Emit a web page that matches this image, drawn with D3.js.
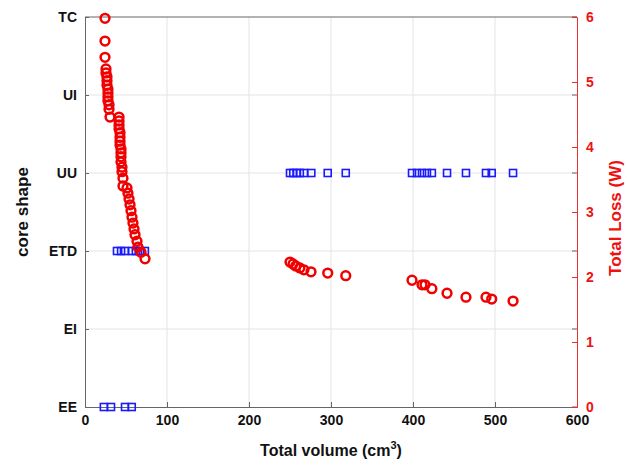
<!DOCTYPE html>
<html><head><meta charset="utf-8">
<script src="https://cdn.jsdelivr.net/npm/d3@7"></script>
<style>body{margin:0;background:#fff}text{font-family:"Liberation Sans",Arial,sans-serif;font-weight:bold}</style>
</head><body>
<svg id="c" width="627" height="467"></svg>
<script>
const shapes = ["EE","EI","ETD","UU","UI","TC"];
const xTicks = [0,100,200,300,400,500,600];
const lossTicks = [0,1,2,3,4,5,6];
// Total loss (red circles): volume (cm3), loss (W)
const lossVol = [24.4,24.4,24.4,25.6,25.6,26.8,26.8,26.8,28,28,28,28,29.3,29.3,30.5,
  41.5,41.5,41.5,41.5,42.7,42.7,42.7,42.7,43.9,43.9,43.9,43.9,45.1,45.1,46.3,46.3,
  51.2,52.4,53.7,54.9,56.1,57.3,58.5,59.8,61,63.4,64.6,68.3,73.2,
  250,253.7,257,262,267,275.6,296,318,
  398.8,411,414.6,423,441.5,464.6,489,496,522];
const lossVal = [5.98,5.63,5.38,5.2,5.14,5.08,5.02,4.95,4.89,4.83,4.77,4.71,4.65,4.58,4.46,
  4.46,4.4,4.34,4.28,4.22,4.15,4.09,4.03,3.97,3.91,3.85,3.77,3.69,3.62,3.52,3.4,
  3.37,3.29,3.2,3.11,3.02,2.92,2.83,2.74,2.65,2.55,2.46,2.38,2.28,
  2.23,2.2,2.17,2.14,2.11,2.08,2.06,2.02,
  1.95,1.88,1.88,1.82,1.75,1.69,1.69,1.66,1.63];
// Core shape (blue squares): volume (cm3), shape
const shapeVol = [23,31.7,48.8,57, 39,44,49,57,62,67,73,
  250,254,258,262,267,276,296,318,
  398.8,405,411,417,423,441.5,464.6,489,496,522];
const shapeCat = ["EE","EE","EE","EE","ETD","ETD","ETD","ETD","ETD","ETD","ETD",
  "UU","UU","UU","UU","UU","UU","UU","UU",
  "UU","UU","UU","UU","UU","UU","UU","UU","UU","UU"];

const svg = d3.select("#c");
const L = 85, R = 577, T = 17, B = 407;
const x = d3.scaleLinear().domain([0,600]).range([L,R]);
const yc = d3.scalePoint().domain(shapes).range([B,T]);
const yl = d3.scaleLinear().domain([0,6]).range([B,T]);

// grid
svg.append("g").selectAll("line").data(xTicks.slice(1,-1)).join("line")
  .attr("x1",d=>x(d)).attr("x2",d=>x(d)).attr("y1",T).attr("y2",B)
  .attr("stroke","#e3e3e3").attr("stroke-width",1);
svg.append("g").selectAll("line").data(shapes.slice(1,-1)).join("line")
  .attr("x1",L).attr("x2",R).attr("y1",d=>yc(d)).attr("y2",d=>yc(d))
  .attr("stroke","#e3e3e3").attr("stroke-width",1);

// box top
svg.append("line").attr("x1",L).attr("x2",R).attr("y1",T).attr("y2",T).attr("stroke","#666");

// x axis
const gx = svg.append("g").attr("transform",`translate(0,${B})`)
  .call(d3.axisBottom(x).tickValues(xTicks).tickSize(-5).tickPadding(8));
gx.select(".domain").attr("stroke","#666");
gx.selectAll(".tick line").attr("stroke","#666");
gx.selectAll("text").attr("font-size",14).attr("fill","#111");

// left axis
const gy = svg.append("g").attr("transform",`translate(${L},0)`)
  .call(d3.axisLeft(yc).tickSize(-4).tickPadding(8));
gy.select(".domain").attr("stroke","#666");
gy.selectAll(".tick line").attr("stroke","#666");
gy.selectAll("text").attr("font-size",14).attr("fill","#111");
// mirrored category ticks on right side
svg.append("g").selectAll("line").data(shapes).join("line")
  .attr("x1",R-5).attr("x2",R).attr("y1",d=>yc(d)).attr("y2",d=>yc(d)).attr("stroke","#666");

// right axis
const gr = svg.append("g").attr("transform",`translate(${R},0)`)
  .call(d3.axisRight(yl).tickValues(lossTicks).tickFormat(d3.format("d")).tickSize(-5).tickPadding(9));
gr.select(".domain").attr("stroke","#e83030");
gr.selectAll(".tick line").attr("stroke","#e83030");
gr.selectAll("text").attr("font-size",14).attr("fill","#f01010");

// titles
const xt = svg.append("text").attr("x",331).attr("y",456).attr("text-anchor","middle")
  .attr("font-size",16).attr("fill","#111").text("Total volume (cm");
xt.append("tspan").attr("font-size",11).attr("dy",-7).text("3");
xt.append("tspan").attr("font-size",16).attr("dy",7).text(")");
svg.append("text").attr("transform","translate(28,212) rotate(-90)").attr("text-anchor","middle")
  .attr("font-size",17).attr("fill","#111").text("core shape");
svg.append("text").attr("transform","translate(621,218) rotate(-90)").attr("text-anchor","middle")
  .attr("font-size",17).attr("fill","#f01010").text("Total Loss (W)");

// blue squares
const sq = 7;
svg.append("g").selectAll("rect").data(shapeVol.map((v,i)=>({v,c:shapeCat[i]}))).join("rect")
  .attr("x",d=>x(d.v)-sq/2).attr("y",d=>yc(d.c)-sq/2).attr("width",sq).attr("height",sq)
  .attr("fill","none").attr("stroke","#1a1aff").attr("stroke-width",1.6);

// red circles
svg.append("g").selectAll("circle").data(lossVol.map((v,i)=>({v,l:lossVal[i]}))).join("circle")
  .attr("cx",d=>x(d.v)).attr("cy",d=>yl(d.l)).attr("r",4.4)
  .attr("fill","none").attr("stroke","#f00000").attr("stroke-width",2.5);
</script>
</body></html>
